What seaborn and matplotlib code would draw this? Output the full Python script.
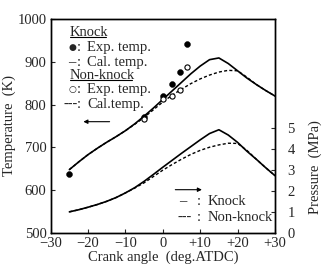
import matplotlib
matplotlib.use("Agg")
import pandas as pd
import matplotlib.pyplot as plt
import seaborn as sns

# crank angle (deg ATDC) for calculated curves
angle = [-25, -22.5, -20, -17.5, -15, -12.5, -10, -7.5, -5, -2.5, 0, 2.5,
         5, 7.5, 10, 12.5, 15, 17.5, 20, 22.5, 25, 27.5, 30]
temp_knock = [648, 666, 683, 698, 712, 725, 739, 755, 773, 792, 812, 832,
              852, 872, 890, 905, 909, 896, 879, 862, 847, 833, 820]
temp_nonknock = [648, 666, 683, 698, 712, 725, 739, 754, 770, 788, 806, 822,
                 836, 849, 860, 869, 876, 880, 879, 864, 847, 833, 820]
pres_knock = [1.0, 1.1, 1.22, 1.35, 1.5, 1.68, 1.9, 2.15, 2.45, 2.78, 3.12, 3.45,
              3.78, 4.1, 4.42, 4.72, 4.9, 4.65, 4.3, 3.88, 3.5, 3.1, 2.72]
pres_nonknock = [1.0, 1.1, 1.22, 1.35, 1.5, 1.68, 1.9, 2.13, 2.38, 2.68, 2.98, 3.25,
                 3.5, 3.73, 3.92, 4.07, 4.18, 4.26, 4.25, 3.92, 3.5, 3.1, 2.72]

# measured temperatures
exp_angle_knock = [-25, -5, 0, 2.5, 4.6, 6.6]
exp_temp_knock = [638, 771, 820, 848, 877, 941]
exp_angle_nonknock = [-5, 0, 2.5, 4.6, 6.6]
exp_temp_nonknock = [766, 813, 820, 834, 889]

sns.set_style("ticks")
plt.rcParams["font.family"] = ["Liberation Serif", "DejaVu Serif"]
plt.rcParams["font.size"] = 10.5

calc = pd.DataFrame({"angle": angle, "tk": temp_knock, "tn": temp_nonknock,
                     "pk": pres_knock, "pn": pres_nonknock})
ek = pd.DataFrame({"angle": exp_angle_knock, "T": exp_temp_knock})
en = pd.DataFrame({"angle": exp_angle_nonknock, "T": exp_temp_nonknock})

fig = plt.figure(figsize=(3.25, 2.68), dpi=100)
ax = fig.add_axes([0.156, 0.131, 0.69, 0.798])
ax2 = ax.twinx()

dash = (0, (2.2, 1.6))
sns.lineplot(data=calc, x="angle", y="tk", ax=ax, color="black", lw=1.2)
sns.lineplot(data=calc, x="angle", y="tn", ax=ax, color="black", lw=1.0, linestyle=dash)
sns.scatterplot(data=ek, x="angle", y="T", ax=ax, color="black", s=18, marker="o",
                edgecolor="black", zorder=5)
sns.scatterplot(data=en, x="angle", y="T", ax=ax, facecolor="white", s=14, marker="o",
                edgecolor="black", linewidth=0.8, zorder=6)
sns.lineplot(data=calc, x="angle", y="pk", ax=ax2, color="black", lw=1.2)
sns.lineplot(data=calc, x="angle", y="pn", ax=ax2, color="black", lw=1.0, linestyle=dash)

ax.set_xlim(-30, 30)
ax.set_ylim(500, 1000)
ax2.set_ylim(0, 10.16)
ax.set_xticks([-30, -20, -10, 0, 10, 20, 30])
ax.set_xticklabels(["\u221230", "\u221220", "\u221210", "0", "+10", "+20", "+30"])
ax.set_yticks([500, 600, 700, 800, 900, 1000])
ax2.set_yticks([0, 1, 2, 3, 4, 5])
for a in (ax, ax2):
    a.tick_params(direction="in", length=3, width=0.8, labelsize=10.5, pad=3)
    for s in a.spines.values():
        s.set_visible(True)
        s.set_linewidth(1.0)
        s.set_color("black")
ax2.tick_params(axis="y", pad=9)
ax.set_xlabel("Crank angle  (deg.ATDC)", fontsize=10.5, labelpad=0)
ax.set_ylabel("Temperature  (K)", fontsize=10.5)
ax.yaxis.set_label_coords(-0.155, 0.5)
ax2.set_ylabel("Pressure  (MPa)", fontsize=10.5)
ax2.yaxis.set_label_coords(1.15, 0.31)

# in-plot legend text
sym_x, col_x, txt_x = -24.3, -22.4, -20.3
ax.text(-24.9, 969, "Knock", va="center", ha="left")
ax.plot([-24.9, -15.2], [959, 959], color="black", lw=0.8)
ax.text(sym_x, 933, "\u25cf", va="center", ha="center",
        family=["DejaVu Sans"], fontsize=6.5)
ax.text(col_x, 933, ":", va="center", ha="center")
ax.text(txt_x, 933, "Exp. temp.", va="center", ha="left")
ax.text(sym_x, 899, "\u2013", va="center", ha="center")
ax.text(col_x, 899, ":", va="center", ha="center")
ax.text(txt_x, 899, "Cal. temp.", va="center", ha="left")
ax.text(-24.9, 869, "Non-knock", va="center", ha="left")
ax.plot([-24.9, -8.3], [858, 858], color="black", lw=0.8)
ax.text(sym_x, 836, "\u25cb", va="center", ha="center",
        family=["DejaVu Sans"], fontsize=6.5)
ax.text(col_x, 836, ":", va="center", ha="center")
ax.text(txt_x, 836, "Exp. temp.", va="center", ha="left")
ax.text(sym_x - 0.3, 801, "---", va="center", ha="center")
ax.text(col_x, 801, ":", va="center", ha="center")
ax.text(txt_x, 801, "Cal.temp.", va="center", ha="left")
ax.annotate("", xy=(-22.0, 760), xytext=(-13.5, 760),
            arrowprops=dict(arrowstyle="-|>", color="black", lw=0.8,
                            mutation_scale=6))
ax.annotate("", xy=(11.2, 601), xytext=(2.6, 601),
            arrowprops=dict(arrowstyle="-|>", color="black", lw=0.8,
                            mutation_scale=6))
ax.text(5.4, 574, "\u2013", va="center", ha="center")
ax.text(9.7, 574, ":", va="center", ha="center")
ax.text(12.1, 574, "Knock", va="center", ha="left")
ax.text(5.9, 537, "---", va="center", ha="center")
ax.text(9.7, 537, ":", va="center", ha="center")
ax.text(12.1, 537, "Non-knock", va="center", ha="left")

fig.savefig("out.png", dpi=100)
